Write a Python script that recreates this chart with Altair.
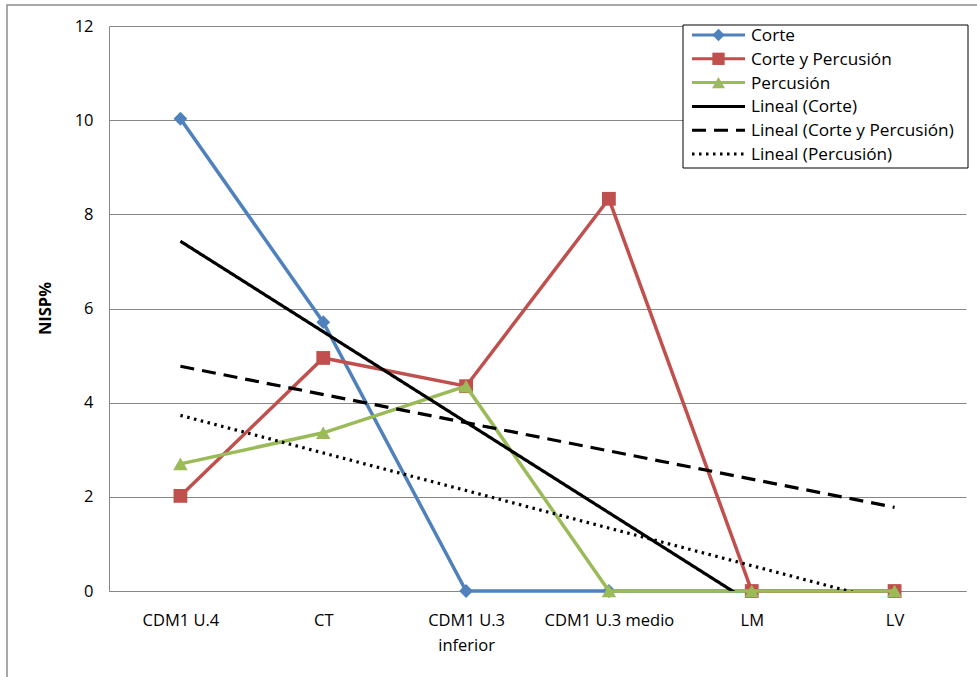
import json

import altair as alt
import pandas as pd

# Sites / levels along the x axis (one list per label line)
category_lines = [
    ["CDM1 U.4"],
    ["CT"],
    ["CDM1 U.3", "inferior"],
    ["CDM1 U.3  medio"],
    ["LM"],
    ["LV"],
]
positions = [1, 2, 3, 4, 5, 6]

# NISP% per mark type
corte = [10.03, 5.71, 0.0, 0.0, 0.0, 0.0]
corte_percusion = [2.02, 4.95, 4.35, 8.33, 0.0, 0.0]
percusion = [2.70, 3.36, 4.35, 0.0, 0.0, 0.0]

series_names = ["Corte", "Corte y Percusión", "Percusión"]
series_values = [corte, corte_percusion, percusion]
series_colors = ["#4F81BD", "#C0504D", "#9BBB59"]
series_shapes = ["diamond", "square", "triangle-up"]
series_sizes = [190, 190, 210]

trend_names = ["Lineal (Corte)", "Lineal (Corte y Percusión)", "Lineal (Percusión)"]
trend_dashes = [[1, 0], [14, 8], [2.5, 4.5]]

y_ticks = [0, 2, 4, 6, 8, 10, 12]

FONT = "Open Sans"
FS = 16.5
LEGEND_FS = 17.2
GRID = "#868686"

rows = []
for name, vals in zip(series_names, series_values):
    for p, v in zip(positions, vals):
        rows.append({"series": name, "pos": p, "value": v})
df = pd.DataFrame(rows)

label_expr = json.dumps(
    [lines if len(lines) > 1 else lines[0] for lines in category_lines],
    ensure_ascii=False,
) + "[datum.value - 1]"

x_enc = alt.X(
    "pos:Q",
    scale=alt.Scale(domain=[0.5, 6.5], nice=False, zero=False),
    axis=alt.Axis(
        values=positions,
        labelExpr=label_expr,
        grid=False,
        ticks=False,
        domainColor=GRID,
        domainWidth=1,
        title=None,
        labelOverlap=False,
        labelBound=False,
        labelFlush=False,
        labelPadding=21,
        labelBaseline="top",
        labelLineHeight=25,
        labelFont=FONT,
        labelFontSize=FS,
        labelColor="#000000",
    ),
)
y_enc = alt.Y(
    "value:Q",
    scale=alt.Scale(domain=[0, 12], nice=False),
    axis=alt.Axis(
        values=y_ticks,
        grid=True,
        gridColor=GRID,
        gridWidth=1,
        ticks=False,
        domainColor=GRID,
        domainWidth=1,
        labelPadding=16,
        labelFont=FONT,
        labelFontSize=FS,
        labelColor="#000000",
        title="NISP%",
        titleFont=FONT,
        titleFontSize=FS,
        titleFontWeight="bold",
        titleColor="#000000",
        titleAngle=270,
        titleX=-64,
        titleY=282,
        titleAlign="center",
        titleBaseline="middle",
    ),
)

one_row = pd.DataFrame({"k": [0]})

# Outer chart frame
frame = alt.Chart(one_row).mark_rect(
    fill="#FFFFFF", fillOpacity=0, stroke="#8C8C8C", strokeWidth=1.5
).encode(
    x=alt.value(-102), x2=alt.value(900), y=alt.value(-21), y2=alt.value(700)
)

layers = [frame]

# Data series: line then markers, series by series
for name, color, shape, size in zip(series_names, series_colors, series_shapes, series_sizes):
    sub = df[df["series"] == name]
    line = alt.Chart(sub).mark_line(color=color, strokeWidth=3.5).encode(x=x_enc, y=y_enc)
    pts = alt.Chart(sub).mark_point(
        shape=shape, filled=True, color=color, size=size, opacity=1
    ).encode(x=x_enc, y=y_enc)
    layers += [line, pts]

# Linear trend lines, clipped to the plot area
trend = (
    alt.Chart(df)
    .transform_regression("pos", "value", groupby=["series"], method="linear", extent=[1, 6])
    .mark_line(color="black", strokeWidth=3.2, clip=True)
    .encode(
        x=x_enc,
        y=y_enc,
        strokeDash=alt.StrokeDash(
            "series:N",
            scale=alt.Scale(domain=series_names, range=trend_dashes),
            legend=None,
        ),
    )
)
layers.append(trend)

# Legend box
legend_box = alt.Chart(one_row).mark_rect(
    fill="#FFFFFF", stroke="#000000", strokeWidth=1
).encode(x=alt.value(574), x2=alt.value(859), y=alt.value(-1), y2=alt.value(142))
layers.append(legend_box)

legend_entries = []
for name, color, shape, size in zip(series_names, series_colors, series_shapes, series_sizes):
    legend_entries.append((name, color, [1, 0], shape, size))
for name, dash in zip(trend_names, trend_dashes):
    legend_entries.append((name, "#000000", dash, None, 0))

for i, (name, color, dash, shape, size) in enumerate(legend_entries):
    yy = 9 + i * 23.8
    entry = pd.DataFrame({"label": [name]})
    layers.append(
        alt.Chart(entry).mark_rule(color=color, strokeWidth=3, strokeDash=dash).encode(
            x=alt.value(583), x2=alt.value(636), y=alt.value(yy)
        )
    )
    if shape:
        layers.append(
            alt.Chart(entry).mark_point(
                shape=shape, filled=True, color=color, size=size * 0.8, opacity=1
            ).encode(x=alt.value(609.5), y=alt.value(yy))
        )
    layers.append(
        alt.Chart(entry).mark_text(
            align="left", baseline="middle", font=FONT, fontSize=LEGEND_FS, color="#000000"
        ).encode(x=alt.value(642), y=alt.value(yy + 1), text="label:N")
    )

chart = (
    alt.layer(*layers)
    .properties(
        width=857,
        height=565,
        autosize="none",
        padding={"left": 109, "top": 26, "right": 11, "bottom": 86},
        background="#FFFFFF",
    )
    .configure_view(stroke=None)
)

chart.save("out.html", embed_options={"renderer": "svg", "actions": False})
